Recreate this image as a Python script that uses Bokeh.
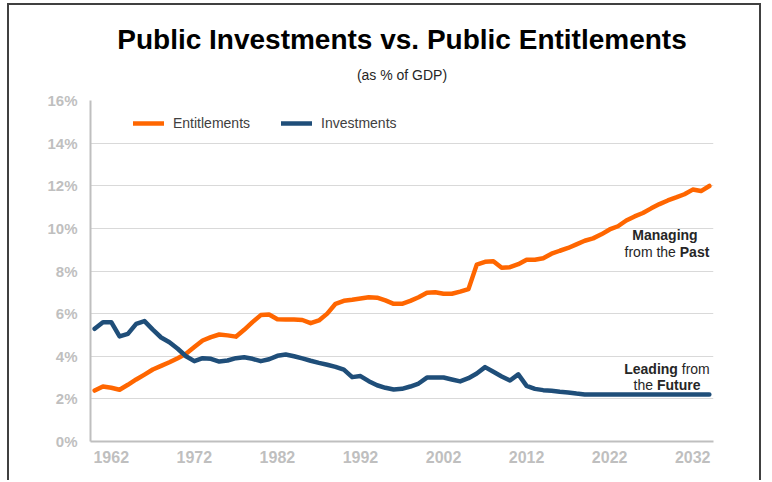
from bokeh.plotting import figure
from bokeh.models import (Legend, LegendItem, Label, Title, FixedTicker,
                          Range1d, ColumnDataSource)
from bokeh.embed import file_html
from bokeh.resources import INLINE

# ---------------- data ----------------
years = list(range(1960, 2035))

entitlements = [
    2.39, 2.58, 2.52, 2.43, 2.66, 2.91, 3.14, 3.38, 3.55, 3.72,   # 1960-1969
    3.91, 4.12, 4.43, 4.74, 4.90, 5.02, 4.98, 4.92, 5.24, 5.60,   # 1970-1979
    5.93, 5.96, 5.74, 5.73, 5.72, 5.70, 5.55, 5.68, 6.00, 6.46,   # 1980-1989
    6.60, 6.65, 6.71, 6.77, 6.75, 6.62, 6.46, 6.46, 6.60, 6.77,   # 1990-1999
    6.98, 7.00, 6.93, 6.93, 7.03, 7.15, 8.30, 8.43, 8.46, 8.15,   # 2000-2009
    8.18, 8.32, 8.53, 8.53, 8.60, 8.81, 8.95, 9.08, 9.25, 9.42,   # 2010-2019
    9.53, 9.72, 9.95, 10.10, 10.37, 10.56, 10.72, 10.94, 11.14, 11.31,  # 2020-2029
    11.45, 11.60, 11.82, 11.75, 11.99,                           # 2030-2034
]

investments = [
    5.29, 5.60, 5.60, 4.93, 5.05, 5.52, 5.65, 5.25, 4.88, 4.66,   # 1960-1969
    4.35, 4.00, 3.77, 3.91, 3.88, 3.75, 3.80, 3.91, 3.95, 3.88,   # 1970-1979
    3.77, 3.86, 4.02, 4.08, 4.00, 3.90, 3.79, 3.69, 3.60, 3.50,   # 1980-1989
    3.37, 3.02, 3.07, 2.83, 2.64, 2.52, 2.44, 2.47, 2.58, 2.72,   # 1990-1999
    3.00, 3.00, 3.00, 2.91, 2.82, 2.97, 3.19, 3.49, 3.27, 3.05,   # 2000-2009
    2.86, 3.15, 2.61, 2.47, 2.41, 2.38, 2.33, 2.30, 2.25, 2.21,   # 2010-2019
    2.20, 2.20, 2.20, 2.20, 2.20, 2.20, 2.20, 2.20, 2.20, 2.20,   # 2020-2029
    2.20, 2.20, 2.20, 2.20, 2.20,                                 # 2030-2034
]

x_ticks = [1962, 1972, 1982, 1992, 2002, 2012, 2022, 2032]
y_ticks = [0, 2, 4, 6, 8, 10, 12, 14, 16]
y_tick_labels = ["0%", "2%", "4%", "6%", "8%", "10%", "12%", "14%", "16%"]

series_names = ["Entitlements", "Investments"]
colors = ["#FF6600", "#1F4E79"]

title_text = "Public Investments vs. Public Entitlements"
subtitle_text = "(as % of GDP)"

FONT = "Liberation Sans"

# ---------------- figure ----------------
p = figure(width=754, height=477, output_backend="svg", toolbar_location=None,
           title=None,
           x_range=Range1d(1959.5, 2034.5), y_range=Range1d(0, 16),
           min_border_left=81, min_border_right=50, min_border_top=95,
           min_border_bottom=41)
p.styles = {"margin-left": "7px", "margin-top": "3px",
            "border-top": "2px solid #404040",
            "border-left": "2px solid #404040",
            "border-right": "2px solid #404040"}
p.outline_line_color = None
p.background_fill_color = "white"
p.border_fill_color = "white"

p.xgrid.visible = False
p.ygrid.grid_line_color = "#D9D9D9"
p.ygrid.grid_line_width = 1
p.ygrid.ticker = FixedTicker(ticks=y_ticks)

for ax in (p.xaxis[0], p.yaxis[0]):
    ax.axis_line_color = "#BFBFBF"
    ax.axis_line_width = 2
    ax.major_tick_line_color = None
    ax.minor_tick_line_color = None
    ax.major_tick_in = 0
    ax.major_tick_out = 0
    ax.major_label_text_color = "#BFBFBF"
    ax.major_label_text_font = FONT
    ax.major_label_text_font_style = "bold"

p.yaxis.ticker = FixedTicker(ticks=y_ticks)
p.yaxis.major_label_overrides = {t: l for t, l in zip(y_ticks, y_tick_labels)}
p.yaxis.major_label_text_font_size = "15px"
p.yaxis.major_label_standoff = 13

p.xaxis.ticker = FixedTicker(ticks=x_ticks)
p.xaxis.major_label_text_font_size = "16px"
p.xaxis.major_label_standoff = 9

src = ColumnDataSource(dict(year=years, ent=entitlements, inv=investments))
r_ent = p.line("year", "ent", source=src, line_color=colors[0], line_width=4.5,
               line_join="round", line_cap="round")
r_inv = p.line("year", "inv", source=src, line_color=colors[1], line_width=4.5,
               line_join="round", line_cap="round")

legend = Legend(items=[LegendItem(label=series_names[0], renderers=[r_ent]),
                       LegendItem(label=series_names[1], renderers=[r_inv])],
                location=(43, 308), orientation="horizontal",
                glyph_width=31, glyph_height=20, label_standoff=9, spacing=31,
                padding=0, margin=0,
                label_text_font=FONT, label_text_font_size="14px",
                label_text_color="#404040",
                background_fill_alpha=0, border_line_color=None)
p.add_layout(legend)

# ---------------- titles (subtitle first = nearest the plot) ----------------
p.add_layout(Title(text=subtitle_text, align="center", text_font=FONT,
                   text_font_size="14px", text_font_style="normal",
                   text_color="#262626", standoff=36), "above")
p.add_layout(Title(text=title_text, align="center", text_font=FONT,
                   text_font_size="28px", text_font_style="bold",
                   text_color="#000000", standoff=-16), "above")

# ---------------- annotations ----------------
ann_x = 2028.9

def lab(y, text, bold, align, dx):
    p.add_layout(Label(x=ann_x, y=y, x_offset=dx, text=text, text_align=align,
                       text_baseline="alphabetic", text_font=FONT,
                       text_font_size="14px",
                       text_font_style="bold" if bold else "normal",
                       text_color="#262626"))

lab(9.67, "Managing", True, "center", -2)
lab(8.88, "from the ", False, "right", 12.8)
lab(8.88, "Past", True, "left", 12.8)
lab(3.40, "Leading ", True, "right", 14.8)
lab(3.40, "from", False, "left", 14.8)
lab(2.63, "the ", False, "right", -10.1)
lab(2.63, "Future", True, "left", -10.1)

open("out.html", "w").write(file_html(p, INLINE))
